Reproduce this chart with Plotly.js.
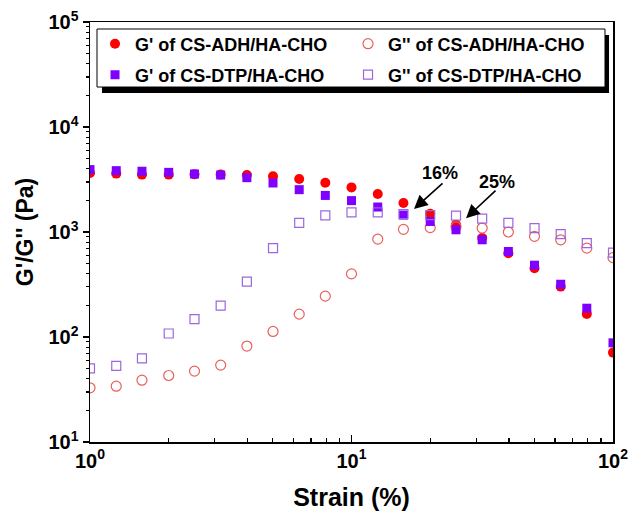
<!DOCTYPE html>
<html>
<head>
<meta charset="utf-8">
<script src="https://cdn.plot.ly/plotly-3.0.1.min.js"></script>
<style>html,body{margin:0;padding:0;background:#fff;}#chart{width:632px;height:524px;}</style>
</head>
<body>
<div id="chart"></div>
<script>
// Strain (%)
const strain = [1, 1.26, 1.58, 2, 2.51, 3.16, 3.98, 5.01, 6.31, 7.94, 10, 12.6, 15.8, 20, 25.1, 31.6, 39.8, 50.1, 63.1, 79.4, 100];
// G' and G'' (Pa)
const gPrimeADH = [3650, 3600, 3520, 3520, 3540, 3520, 3490, 3390, 3200, 2950, 2660, 2300, 1890, 1490, 1170, 875, 628, 452, 302, 166, 71];
const gDoubleADH = [32.8, 34, 38.8, 43, 47.3, 54, 82, 113, 165, 245, 399, 855, 1060, 1100, 1120, 1090, 1000, 910, 843, 702, 570];
const gPrimeDTP = [3930, 3840, 3790, 3700, 3570, 3490, 3290, 2930, 2530, 2230, 1990, 1730, 1450, 1260, 1050, 843, 652, 483, 318, 188, 88];
const gDoubleDTP = [50.2, 53.2, 62.6, 108, 148, 199, 337, 702, 1220, 1440, 1540, 1540, 1480, 1450, 1430, 1340, 1220, 1090, 955, 783, 637];

const seriesNames = ["G' of CS-ADH/HA-CHO", "G'' of CS-ADH/HA-CHO", "G' of CS-DTP/HA-CHO", "G'' of CS-DTP/HA-CHO"];
const xTickVals = [1, 10, 100];
const xTickText = ['10<sup>0</sup>', '10<sup>1</sup>', '10<sup>2</sup>'];
const yTickVals = [10, 100, 1000, 10000, 100000];
const yTickText = ['10<sup>1</sup>', '10<sup>2</sup>', '10<sup>3</sup>', '10<sup>4</sup>', '10<sup>5</sup>'];

const FONT = 'Arial, "Liberation Sans", sans-serif';

const traces = [
  {x: strain, y: gPrimeADH, name: seriesNames[0], mode: 'markers', type: 'scatter', legend: 'legend',
   marker: {symbol: 'circle', size: 10, color: '#FF0000'}},
  {x: strain, y: gDoubleADH, name: seriesNames[1], mode: 'markers', type: 'scatter', legend: 'legend',
   marker: {symbol: 'circle-open', size: 10, color: '#E8605C', line: {width: 1.2, color: '#E8605C'}}},
  {x: strain, y: gPrimeDTP, name: seriesNames[2], mode: 'markers', type: 'scatter', legend: 'legend2',
   marker: {symbol: 'square', size: 9, color: '#7F00FF'}},
  {x: strain, y: gDoubleDTP, name: seriesNames[3], mode: 'markers', type: 'scatter', legend: 'legend2',
   marker: {symbol: 'square-open', size: 9, color: '#9C66E0', line: {width: 1.2, color: '#9C66E0'}}}
];

const legendCommon = {
  xanchor: 'left', yanchor: 'middle',
  orientation: 'h', entrywidth: 208, entrywidthmode: 'pixels',
  bgcolor: 'rgba(0,0,0,0)', borderwidth: 0,
  font: {family: FONT, size: 18, color: '#000', weight: 'bold'}
};

const layout = {
  width: 632, height: 524,
  margin: {l: 90, r: 19, t: 22, b: 82},
  paper_bgcolor: '#fff', plot_bgcolor: '#fff',
  font: {family: FONT, color: '#000'},
  showlegend: true,
  xaxis: {
    type: 'log', range: [0, 2],
    tickvals: xTickVals, ticktext: xTickText,
    ticks: 'inside', ticklen: 7, tickwidth: 1.5, tickcolor: '#000',
    minor: {ticks: 'inside', ticklen: 4, tickwidth: 1.2, tickcolor: '#000', dtick: 'D1', showgrid: false},
    showline: true, linecolor: '#000', linewidth: 1.5, mirror: true,
    showgrid: false, zeroline: false,
    tickfont: {family: FONT, size: 20, color: '#000', weight: 'bold'},
    title: {text: '<b>Strain (%)</b>', font: {family: FONT, size: 25, color: '#000'}, standoff: 18}
  },
  yaxis: {
    type: 'log', range: [1, 5],
    tickvals: yTickVals, ticktext: yTickText,
    ticks: 'outside', ticklen: 6, tickwidth: 1.5, tickcolor: '#000',
    minor: {ticks: 'outside', ticklen: 3, tickwidth: 1.2, tickcolor: '#000', dtick: 'D1', showgrid: false},
    showline: true, linecolor: '#000', linewidth: 1.5, mirror: true,
    showgrid: false, zeroline: false,
    tickfont: {family: FONT, size: 20, color: '#000', weight: 'bold'},
    title: {text: "<b>G'/G'' (Pa)</b>", font: {family: FONT, size: 23, color: '#000'}, standoff: 8}
  },
  legend: Object.assign({}, legendCommon, {x: 0.0096, y: 0.9476}),
  legend2: Object.assign({}, legendCommon, {x: 0.0096, y: 0.8738}),
  shapes: [
    {type: 'rect', xref: 'paper', yref: 'paper', x0: 0.0229, x1: 0.9924, y0: 0.831, y1: 0.969,
     fillcolor: '#000', line: {width: 0}, layer: 'above'},
    {type: 'rect', xref: 'paper', yref: 'paper', x0: 0.0134, x1: 0.9847, y0: 0.8452, y1: 0.9833,
     fillcolor: '#fff', line: {width: 1, color: '#000'}, layer: 'above'}
  ],
  annotations: [
    {xref: 'paper', yref: 'paper', x: 0.708, y: 0.640, text: '<b>16%</b>', showarrow: false,
     font: {family: FONT, size: 18, color: '#000'}},
    {xref: 'paper', yref: 'paper', x: 0.817, y: 0.620, text: '<b>25%</b>', showarrow: false,
     font: {family: FONT, size: 18, color: '#000'}},
    {xref: 'paper', yref: 'paper', x: 0.6195, y: 0.5548, text: '', showarrow: true,
     ax: 30, ay: -27, arrowhead: 2, arrowsize: 1.7, arrowwidth: 1.6, arrowcolor: '#000'},
    {xref: 'paper', yref: 'paper', x: 0.719, y: 0.533, text: '', showarrow: true,
     ax: 31, ay: -29, arrowhead: 2, arrowsize: 1.7, arrowwidth: 1.6, arrowcolor: '#000'}
  ]
};

Plotly.newPlot('chart', traces, layout, {staticPlot: true, displayModeBar: false});
</script>
</body>
</html>
